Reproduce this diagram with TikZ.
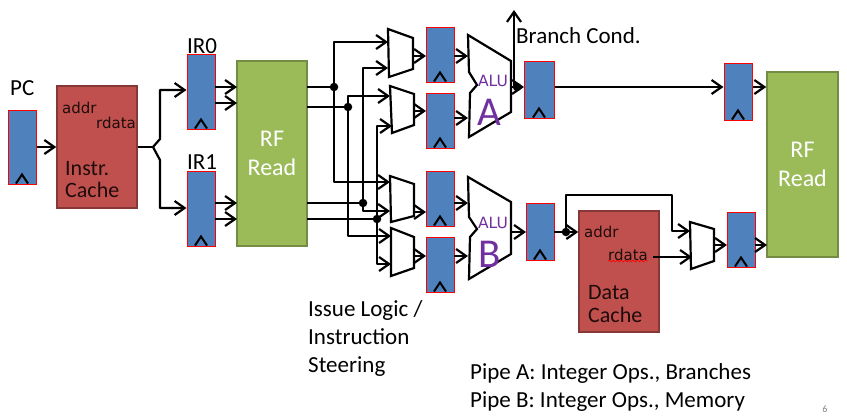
\documentclass[tikz,border=0pt]{standalone}
\usepackage{fontspec}
\setmainfont{Carlito}
\newfontfamily\smallfont{DejaVu Sans}
\usetikzlibrary{arrows.meta,calc,decorations.pathmorphing}
\definecolor{regblue}{HTML}{4F81BD}
\definecolor{cachered}{HTML}{C0504D}
\definecolor{rfgreen}{HTML}{9BBB59}
\definecolor{alupurple}{HTML}{7030A0}
\tikzset{
  reg/.style={rectangle, draw=red, fill=regblue, line width=1pt, minimum width=28pt, inner sep=0pt},
  cache/.style={rectangle, draw=cachered!70!black, fill=cachered, line width=1.5pt, minimum width=80pt, inner sep=0pt},
  rf/.style={rectangle, draw=rfgreen!75!black, fill=rfgreen, line width=1.5pt, inner sep=0pt, align=center, text=white, font=\fontsize{24}{29}\selectfont},
  arrow/.style={-{Straight Barb[length=10pt,width=14pt,line width=2.2pt]}, line width=2.2pt, line join=round},
  wire/.style={line width=2.2pt, line join=round},
  shapeline/.style={draw=black, line width=2.2pt, fill=white, line join=miter},
  dotnode/.style={circle, fill=black, minimum size=8.5pt, inner sep=0pt},
  lbl/.style={inner sep=0pt, anchor=west, font=\fontsize{23}{28}\selectfont},
  cachelbl/.style={inner sep=0pt, anchor=west, align=left, font=\fontsize{22}{22.5}\selectfont, text=black!85!cachered},
  tiny/.style={inner sep=0pt, anchor=west, font=\smallfont\fontsize{15}{17}\selectfont, text=black!85!cachered},
  alusmall/.style={inner sep=0pt, text=alupurple, font=\smallfont\fontsize{15.5}{17}\selectfont},
  alubig/.style={inner sep=0pt, text=alupurple, font=\fontsize{41}{45}\selectfont}
}
% draws the clock mark at the foot of a register
\newcommand{\clk}[1]{\draw[line width=2pt] ($(#1.south)+(-6,-1)$) -- ($(#1.south)+(0,-10)$) -- ($(#1.south)+(6,-1)$);}
\begin{document}
\begin{tikzpicture}[x=1pt,y=-1pt]
\useasboundingbox (0,0) rectangle (847,416);

% registers
\node[reg, minimum height=74pt] (pc) at (22,147) {};
\node[reg, minimum height=75pt] (ir0) at (201,91.5) {};
\node[reg, minimum height=75pt] (ir1) at (201,208.5) {};
\node[reg, minimum height=55pt] (ra1) at (440,54.5) {};
\node[reg, minimum height=55pt] (ra2) at (440,120.5) {};
\node[reg, minimum height=55pt] (rb1) at (440,198.5) {};
\node[reg, minimum height=55pt] (rb2) at (440,264.5) {};
\node[reg, minimum height=57pt, minimum width=30pt] (aluaout) at (539,89.5) {};
\node[reg, minimum height=57pt] (alubout) at (540,231.5) {};
\node[reg, minimum height=57pt] (wba) at (738,91.5) {};
\node[reg, minimum height=55pt] (wbb) at (741,239.5) {};
\foreach \r in {pc,ir0,ir1,ra1,ra2,rb1,rb2,aluaout,alubout,wba,wbb} {\clk{\r}}

% big blocks
\node[cache, minimum height=122pt] (icache) at (97,147) {};
\node[cache, minimum height=121pt] (dcache) at (619,271.5) {};
\node[rf, minimum width=70pt, minimum height=185pt] (rf0) at (272,153.5) {RF\\Read};
\node[rf, minimum width=71pt, minimum height=185pt] (rf1) at (802.5,164.5) {RF\\Read};

% muxes
\draw[shapeline] (388,29) -- (413,38) -- (413,69) -- (389,77) -- cycle;
\draw[shapeline] (390,86) -- (414,94) -- (414,125) -- (392,133) -- cycle;
\draw[shapeline] (390,176) -- (414,184) -- (414,216) -- (391,222) -- cycle;
\draw[shapeline] (391,228) -- (414,237) -- (414,268) -- (391,276) -- cycle;
\draw[shapeline] (690,222) -- (714,229) -- (714,261) -- (691,269) -- cycle;

% ALUs
\draw[shapeline] (468,35) -- (511,61) -- (511,112) -- (469,137) -- (470,93) -- (477,85) -- (469,72) -- cycle;
\draw[shapeline] (468,177) -- (511,202) -- (511,254) -- (469,279) -- (470,237) -- (477,229) -- (469,217) -- cycle;
\node[alusmall] (alualbl) at (493,80.5) {ALU};
\node[alubig] (aluaname) at (489.5,112) {A};
\node[alusmall] (alublbl) at (493,223) {ALU};
\node[alubig] (alubname) at (490,254) {B};

% fetch
\coordinate (fork) at (153,147);
\coordinate (irin0) at (ir0.west |- 0,90);
\coordinate (irin1) at (ir1.west |- 0,208);
\draw[arrow] (pc.east) -- (icache.west);
\draw[wire] (icache.east) -- (fork);
\draw[arrow] (fork) -- (160,139) -- (160,90) -- (irin0);
\draw[arrow] (fork) -- (160,160) -- (160,208) -- (irin1);

% register read
\foreach \y in {87,103} {\draw[arrow] (215,\y) -- (237,\y);}
\foreach \y in {203,219} {\draw[arrow] (215,\y) -- (237,\y);}

% issue logic
\node[dotnode] (d1) at (334,87) {};
\node[dotnode] (d2) at (348,107) {};
\node[dotnode] (d3) at (363,203) {};
\node[dotnode] (d4) at (377,219) {};
\draw[wire] (307,87) -- (d1);
\draw[wire] (307,107) -- (d2);
\draw[wire] (307,203) -- (d3);
\draw[wire] (307,219) -- (d4);
\draw[arrow] (d1) |- (388,42);
\draw[arrow] (d1) |- (390,182);
\draw[arrow] (d2) |- (390,96);
\draw[arrow] (d2) |- (391,236);
\draw[arrow] (d3) |- (388,68);
\draw[arrow] (d3) |- (390,211);
\draw[arrow] (d4) |- (392,126);
\draw[arrow] (d4) |- (391,264);

% mux to register to ALU
\foreach \y in {56,111,212,256} {\draw[arrow] (414,\y) -- (426,\y);}
\foreach \y in {56,118,203,256} {\draw[arrow] (454,\y) -- (468,\y);}

% pipe A
\node[dotnode] (da) at (517,87) {};
\coordinate (branch) at (514,10);
\draw[arrow] (511,87) -- (524,87);
\draw[arrow] (514,87) -- (branch);
\draw[arrow] (aluaout.east |- 0,87) -- (wba.west |- 0,87);
\draw[arrow] (wba.east |- 0,87) -- (rf1.west |- 0,87);

% pipe B
\node[dotnode] (db) at (566,232) {};
\draw[arrow] (511,232) -- (526,232);
\draw[wire] (554,232) -- (db);
\draw[arrow] (db) -- (dcache.west |- db);
\draw[arrow] (db) |- (672,195) -- (672,231) -- (690,231);
\draw[arrow] (653,257) -- (692,257);
\draw[arrow] (714,245) -- (727,245);
\draw[arrow] (755,245) -- (767,245);

% labels
\node[lbl] (pclbl) at (10,88) {PC};
\node[lbl] (ir0lbl) at (187,46) {IR0};
\node[lbl] (ir1lbl) at (187,162) {IR1};
\node[tiny] (iaddr) at (62,108) {addr};
\node[tiny] (irdata) at (96,123) {rdata};
\node[cachelbl] (icachelbl) at (65,179.5) {Instr.\\Cache};
\node[tiny] (daddr) at (584,232) {addr};
\node[tiny] (drdata) at (608,255) {rdata};
\node[cachelbl] (dcachelbl) at (588,304) {Data\\Cache};
\draw[red, line width=0.7pt, decorate, decoration={snake, amplitude=0.8pt, segment length=4pt}] (drdata.south west) -- (drdata.south east);
\node[lbl] (brlbl) at (516,36) {Branch Cond.};
\node[lbl, align=left] (issue) at (308,338) {Issue Logic /\\Instruction\\Steering};
\node[lbl] (pipea) at (470,373) {Pipe A: Integer Ops., Branches};
\node[lbl] (pipeb) at (470,402) {Pipe B: Integer Ops., Memory};
\node[inner sep=0pt, text=gray, font=\fontsize{10}{12}\selectfont] (pagenum) at (825,409) {6};
\end{tikzpicture}
\end{document}
